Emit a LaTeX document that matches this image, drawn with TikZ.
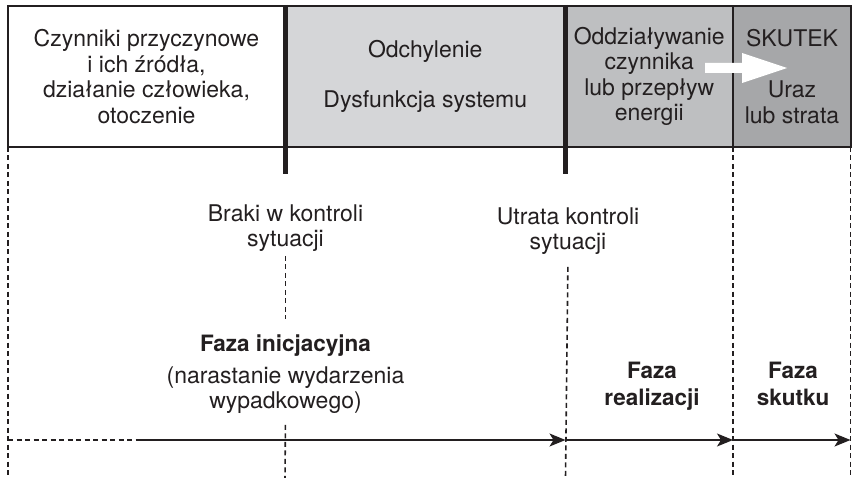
\documentclass[tikz,border=0pt]{standalone}
\usepackage{fontspec}
\setmainfont{TeX Gyre Heros}
\usetikzlibrary{arrows.meta,positioning}

\definecolor{ink}{RGB}{35,31,32}
\definecolor{boxlight}{RGB}{213,214,216}
\definecolor{boxmid}{RGB}{190,191,193}
\definecolor{boxdark}{RGB}{166,167,169}

\begin{document}
\begin{tikzpicture}[
    x=1pt, y=-1pt,
    font=\fontsize{23}{25.5}\selectfont,
    % pola w górnym pasku
    phasebox/.style={draw=ink, line width=1.5pt, inner sep=0pt, align=center, text=ink},
    labeltext/.style={align=center, text=ink, inner sep=2pt},
    phasename/.style={align=center, text=ink, inner sep=2pt, font=\fontsize{22.5}{27}\selectfont\bfseries},
    guide/.style={draw=ink, line width=1.6pt, dash pattern=on 5pt off 3.5pt},
    flow/.style={draw=ink, line width=1.4pt, -{Stealth[length=16pt,width=13pt,inset=4pt]}},
    divider/.style={draw=ink, line width=5pt}
]
\useasboundingbox (0,0) rectangle (853,478);

% --- 1. Górny pasek z polami ---
\node[phasebox, minimum width=277pt, minimum height=141pt] (cause) at (146.5,76.5)
    {Czynniki przyczynowe\\i ich źródła,\\działanie człowieka,\\otoczenie};
\node[phasebox, fill=boxlight, minimum width=280.5pt, minimum height=141pt] (dev) at (425.25,76.5)
    {Odchylenie\\[24.5pt]Dysfunkcja systemu};
\node[phasebox, fill=boxmid, minimum width=167.5pt, minimum height=141pt] (act) at (649.25,76.5)
    {Oddziaływanie\\czynnika\\lub przepływ\\energii};
\node[phasebox, fill=boxdark, minimum width=118pt, minimum height=141pt] (res) at (792,76.5)
    {SKUTEK\\[26pt]Uraz\\lub strata};

% biała strzałka
\fill[white] (705,63) -- (742,63) -- (742,53) -- (787,68) -- (742,83) -- (742,73) -- (705,73) -- cycle;

% grube linie podziału
\draw[divider] (285,5) -- (285,174);
\draw[divider] (565.5,5) -- (565.5,174);

% --- 2. Opisy pod paskiem ---
\node[labeltext] (gap) at (285.5,228) {Braki w kontroli\\sytuacji};
\node[labeltext] (loss) at (568,231) {Utrata kontroli\\sytuacji};

\node[phasename] (init) at (285.5,346) {Faza inicjacyjna};
\node[labeltext] (grow) at (285.5,390) {(narastanie wydarzenia\\wypadkowego)};
\node[phasename] (real) at (652,386) {Faza\\realizacji};
\node[phasename] (effect) at (793,384) {Faza\\skutku};

% --- 3. Linie pomocnicze (przerywane) ---
\coordinate (b0) at (8,478);
\coordinate (b1) at (285,478);
\coordinate (b2) at (565.5,478);
\coordinate (b3) at (733,478);
\coordinate (b4) at (850.5,478);

\draw[guide] (8,147) -- (b0);
\draw[guide, shorten <=2pt, shorten >=14pt] (gap.south) -- (init.north);
\draw[guide, shorten <=9pt] (grow.south) -- (b1);
\draw[guide, shorten <=10pt] (loss.south) -- (b2);
\draw[guide] (733,147) -- (b3);
\draw[guide] (850.5,147) -- (b4);

% --- 4. Oś czasu ---
\coordinate (t0) at (8,440);
\coordinate (t1) at (140,440);
\coordinate (t2) at (565.5,440);
\coordinate (t3) at (733,440);
\coordinate (t4) at (850.5,440);

\draw[guide] (t0) -- (t1);
\draw[flow] (t1) -- (t2);
\draw[flow] (t2) -- (t3);
\draw[flow] (t3) -- (t4);

\end{tikzpicture}
\end{document}
